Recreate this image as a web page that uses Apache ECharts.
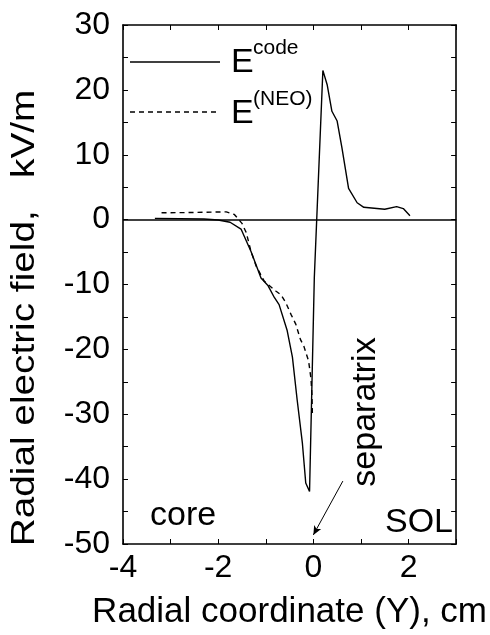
<!DOCTYPE html>
<html>
<head>
<meta charset="utf-8">
<script src="https://cdn.jsdelivr.net/npm/echarts@6/dist/echarts.min.js"></script>
<style>
html,body{margin:0;padding:0;background:#fff;}
#chart{width:490px;height:635px;}
</style>
</head>
<body>
<div id="chart"></div>
<script>
// ---- data ----
const xCode = [-3.33, -2.8, -2.3, -2.0, -1.75, -1.52, -1.31, -1.1, -0.95, -0.82, -0.72, -0.55, -0.44, -0.34, -0.23, -0.16, -0.08, 0.02, 0.2, 0.29, 0.39, 0.5, 0.6, 0.74, 0.92, 1.06, 1.5, 1.75, 1.89, 2.03];
const yCode = [0.2, 0.15, 0.1, -0.05, -0.4, -1.45, -4.9, -9.0, -10.2, -12.0, -13.1, -17.1, -21.2, -27.8, -34.5, -40.6, -41.9, -9.0, 23.0, 20.8, 16.7, 15.2, 11.1, 4.8, 2.6, 1.9, 1.6, 2.0, 1.7, 0.6];
const xNeo = [-3.19, -2.5, -1.83, -1.66, -1.5, -1.41, -1.31, -1.2, -1.03, -0.79, -0.68, -0.58, -0.47, -0.37, -0.27, -0.2, -0.1, -0.05, -0.03, -0.02];
const yNeo = [1.05, 1.1, 1.2, 0.8, -0.58, -2.0, -4.9, -7.2, -9.5, -11.0, -11.6, -12.8, -14.6, -16.1, -18.5, -19.5, -21.8, -24.5, -27.0, -30.0];
const xLabelValues = [-4, -2, 0, 2];
const yLabelValues = [-50, -40, -30, -20, -10, 0, 10, 20, 30];
const arrowFrom = [0.62, -40.3];
const arrowTo = [0, -48.6];

const FONT = "'Liberation Sans', Arial, Helvetica, sans-serif";
const chart = echarts.init(document.getElementById('chart'), null, {renderer: 'canvas'});

const axisLineStyle = {color: '#000', width: 1.6};
function xAx(pos, showLabel) {
  return {
    type: 'value', position: pos, min: -4, max: 3, interval: 1,
    axisLine: {show: true, onZero: false, lineStyle: axisLineStyle},
    axisTick: {show: true, inside: true, length: 5, lineStyle: {color: '#000', width: 1}},
    axisLabel: {show: showLabel, color: '#000', fontSize: 32, fontFamily: FONT, margin: 8,
      formatter: v => xLabelValues.includes(v) ? String(v) : ''},
    splitLine: {show: false},
    name: showLabel ? 'Radial coordinate (Y), cm' : '',
    nameLocation: 'middle', nameGap: 51,
    nameTextStyle: {color: '#000', fontSize: 35, fontFamily: FONT}
  };
}
function yAx(pos, showLabel) {
  return {
    type: 'value', position: pos, min: -50, max: 30, interval: 10,
    axisLine: {show: true, onZero: false, lineStyle: axisLineStyle},
    axisTick: {show: true, inside: true, length: 5, lineStyle: {color: '#000', width: 1}},
    minorTick: {show: true, splitNumber: 2, length: 5, lineStyle: {color: '#000', width: 1}},
    axisLabel: {show: showLabel, color: '#000', fontSize: 32, fontFamily: FONT, margin: 13,
      formatter: v => yLabelValues.includes(v) ? String(v) : ''},
    splitLine: {show: false},
    minorSplitLine: {show: false}
  };
}

const option = {
  animation: false,
  backgroundColor: '#fff',
  grid: {left: 123, right: 32, top: 25, bottom: 87, containLabel: false},
  xAxis: [xAx('bottom', true), xAx('top', false)],
  yAxis: [yAx('left', true), yAx('right', false)],
  series: [
    {
      name: 'E code', type: 'line', xAxisIndex: 0, yAxisIndex: 0,
      data: xCode.map((x, i) => [x, yCode[i]]),
      symbol: 'none', showSymbol: false, smooth: false,
      lineStyle: {color: '#000', width: 1.4},
      silent: true,
      markLine: {
        silent: true, animation: false,
        label: {show: false},
        symbol: ['none', 'none'],
        lineStyle: {color: '#000', width: 1.5, type: 'solid'},
        data: [
          [{coord: [-4, 0], symbol: 'none'}, {coord: [3, 0], symbol: 'none'}],
          [{coord: arrowFrom, symbol: 'none', lineStyle: {width: 1}},
           {coord: arrowTo, symbol: 'arrow', symbolSize: [6, 9], lineStyle: {width: 1}}]
        ]
      }
    },
    {
      name: 'E NEO', type: 'line', xAxisIndex: 0, yAxisIndex: 0,
      data: xNeo.map((x, i) => [x, yNeo[i]]),
      symbol: 'none', showSymbol: false, smooth: false,
      lineStyle: {color: '#000', width: 1.4, type: [5, 4]},
      silent: true
    }
  ],
  graphic: [
    {type: 'text', x: 25, y: 318, rotation: Math.PI / 2, scaleX: 1.14, style: {text: 'Radial electric field,   kV/m', fontSize: 34, fontFamily: FONT, fill: '#000', align: 'center', verticalAlign: 'middle'}},
    {type: 'line', shape: {x1: 130, y1: 62, x2: 220, y2: 62}, style: {stroke: '#000', lineWidth: 1.4}},
    {type: 'line', shape: {x1: 130, y1: 112, x2: 220, y2: 112}, style: {stroke: '#000', lineWidth: 1.4, lineDash: [5, 4]}},
    {type: 'text', x: 231, y: 63, style: {text: 'E', fontSize: 34, fontFamily: FONT, fill: '#000', align: 'left', verticalAlign: 'middle'}},
    {type: 'text', x: 253, y: 48, style: {text: 'code', fontSize: 21, fontFamily: FONT, fill: '#000', align: 'left', verticalAlign: 'middle'}},
    {type: 'text', x: 231, y: 114, style: {text: 'E', fontSize: 34, fontFamily: FONT, fill: '#000', align: 'left', verticalAlign: 'middle'}},
    {type: 'text', x: 253, y: 99, style: {text: '(NEO)', fontSize: 21, fontFamily: FONT, fill: '#000', align: 'left', verticalAlign: 'middle'}},
    {type: 'text', x: 150, y: 516, style: {text: 'core', fontSize: 34, fontFamily: FONT, fill: '#000', align: 'left', verticalAlign: 'middle'}},
    {type: 'text', x: 385, y: 523, style: {text: 'SOL', fontSize: 34, fontFamily: FONT, fill: '#000', align: 'left', verticalAlign: 'middle'}},
    {type: 'text', x: 366, y: 412, rotation: Math.PI / 2, style: {text: 'separatrix', fontSize: 34, fontFamily: FONT, fill: '#000', align: 'center', verticalAlign: 'middle'}}
  ]
};
chart.setOption(option);
</script>
</body>
</html>
